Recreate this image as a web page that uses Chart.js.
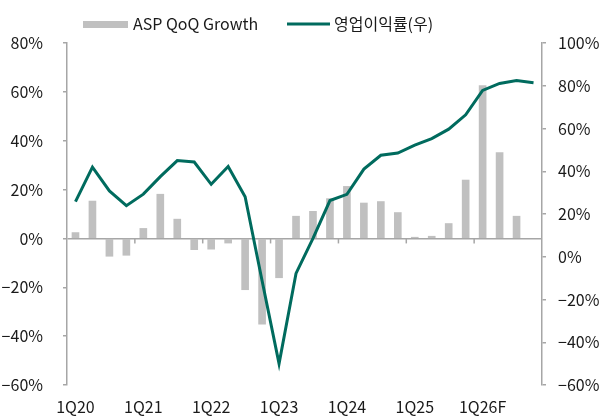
<!DOCTYPE html>
<html>
<head>
<meta charset="utf-8">
<script src="https://cdn.jsdelivr.net/npm/chart.js@4/dist/chart.umd.min.js"></script>
<style>
  html, body { margin: 0; padding: 0; background: #fff; }
  #wrap { width: 608px; height: 419px; position: relative; }
</style>
</head>
<body>
<div id="wrap"><canvas id="grafico"></canvas></div>
<script>
// 분기 라벨
var quarters = ['1Q20','2Q20','3Q20','4Q20','1Q21','2Q21','3Q21','4Q21',
  '1Q22','2Q22','3Q22','4Q22','1Q23','2Q23','3Q23','4Q23',
  '1Q24','2Q24','3Q24','4Q24','1Q25','2Q25','3Q25','4Q25',
  '1Q26F','2Q26F','3Q26F','4Q26F'];

// ASP QoQ Growth (%, 좌축)
var aspGrowth = [2.4, 15.3, -7.3, -6.9, 4.1, 18.1, 7.9, -4.6,
  -4.4, -1.9, -21.0, -35.1, -16.1, 9.1, 11.1, 16.3,
  21.3, 14.5, 15.1, 10.6, 0.5, 0.9, 6.1, 23.9,
  62.6, 35.1, 9.1, null];

// 영업이익률 (%, 우축)
var opMargin = [25.8, 41.9, 30.8, 23.9, 29.3, 37.5, 45.0, 44.3,
  33.9, 42.2, 28.1, -11.2, -50.0, -7.8, 8.6, 26.3,
  29.2, 41.0, 47.5, 48.5, 52.2, 55.3, 59.7, 66.4,
  77.8, 81.1, 82.4, 81.4];

var leftTicks = { min: -60, max: 80, step: 20 };
var rightTicks = { min: -60, max: 100, step: 20 };

var FONT = '"Noto Sans CJK KR", "Noto Sans", sans-serif';
var GRAY_AXIS = '#a6a6a6';
var BAR_COLOR = '#c0c0c0';
var LINE_COLOR = '#006b5e';
var TEXT_COLOR = '#1a1a1a';

function pct(v) {
  return (v < 0 ? '\u2212' + Math.abs(v) : v) + '%';
}

// 범례 + 연도 구분 눈금
var extras = {
  id: 'extras',
  beforeDatasetsDraw: function (chart) {
    var c = chart.ctx, x = chart.scales.x, y = chart.scales.y;
    var y0 = y.getPixelForValue(0);
    c.save();
    c.strokeStyle = GRAY_AXIS;
    c.lineWidth = 1.5;
    for (var i = 4; i < quarters.length; i += 4) {
      var px = (x.getPixelForValue(i - 1) + x.getPixelForValue(i)) / 2;
      c.beginPath();
      c.moveTo(px, y0);
      c.lineTo(px, y0 + 5);
      c.stroke();
    }
    c.restore();
  },
  afterDraw: function (chart) {
    var c = chart.ctx;
    var ds = chart.data.datasets;
    c.save();
    c.font = '16px ' + FONT;
    c.textBaseline = 'middle';
    c.fillStyle = ds[0].backgroundColor;
    c.fillRect(83, 21, 45, 7);
    c.fillStyle = TEXT_COLOR;
    c.fillText(ds[0].label, 133, 24);
    c.strokeStyle = ds[1].borderColor;
    c.lineWidth = 3;
    c.beginPath();
    c.moveTo(287, 24);
    c.lineTo(330, 24);
    c.stroke();
    c.fillText(ds[1].label, 334, 24);
    c.restore();
  }
};

var ctx = document.getElementById('grafico').getContext('2d');
var chart = new Chart(ctx, {
  data: {
    labels: quarters,
    datasets: [{
      type: 'bar',
      label: 'ASP QoQ Growth',
      data: aspGrowth,
      yAxisID: 'y',
      backgroundColor: BAR_COLOR,
      borderWidth: 0,
      barThickness: 7,
      order: 2
    }, {
      type: 'line',
      label: '영업이익률(우)',
      data: opMargin,
      yAxisID: 'y1',
      borderColor: LINE_COLOR,
      backgroundColor: LINE_COLOR,
      borderWidth: 3,
      pointRadius: 0,
      tension: 0,
      fill: false,
      order: 1
    }]
  },
  options: {
    responsive: true,
    maintainAspectRatio: false,
    animation: false,
    layout: { padding: { top: 43, bottom: 0, left: 0, right: 0 } },
    plugins: {
      legend: { display: false },
      tooltip: { enabled: false }
    },
    scales: {
      x: {
        afterFit: function (s) { s.height = 34; },
        grid: { display: false, drawTicks: false },
        border: { display: false },
        ticks: {
          color: TEXT_COLOR,
          font: { family: FONT, size: 16 },
          padding: 12,
          autoSkip: false,
          maxRotation: 0,
          callback: function (v, i) { return i % 4 === 0 ? quarters[i] : ''; }
        }
      },
      y: {
        position: 'left',
        min: leftTicks.min,
        max: leftTicks.max,
        afterFit: function (s) { s.width = 67; },
        grid: {
          color: function (c) { return c.tick && c.tick.value === 0 ? GRAY_AXIS : 'rgba(0,0,0,0)'; },
          tickColor: GRAY_AXIS,
          tickLength: 4,
          lineWidth: 1.5
        },
        border: { color: GRAY_AXIS, width: 1.5 },
        ticks: {
          stepSize: leftTicks.step,
          color: TEXT_COLOR,
          font: { family: FONT, size: 16 },
          padding: 20,
          callback: function (v) { return pct(v); }
        }
      },
      y1: {
        position: 'right',
        min: rightTicks.min,
        max: rightTicks.max,
        afterFit: function (s) { s.width = 66; },
        grid: { drawOnChartArea: false, tickColor: GRAY_AXIS, tickLength: 4, lineWidth: 1.5 },
        border: { color: GRAY_AXIS, width: 1.5 },
        ticks: {
          stepSize: rightTicks.step,
          color: TEXT_COLOR,
          font: { family: FONT, size: 16 },
          padding: 12,
          callback: function (v) { return pct(v); }
        }
      }
    }
  },
  plugins: [extras]
});
</script>
</body>
</html>
